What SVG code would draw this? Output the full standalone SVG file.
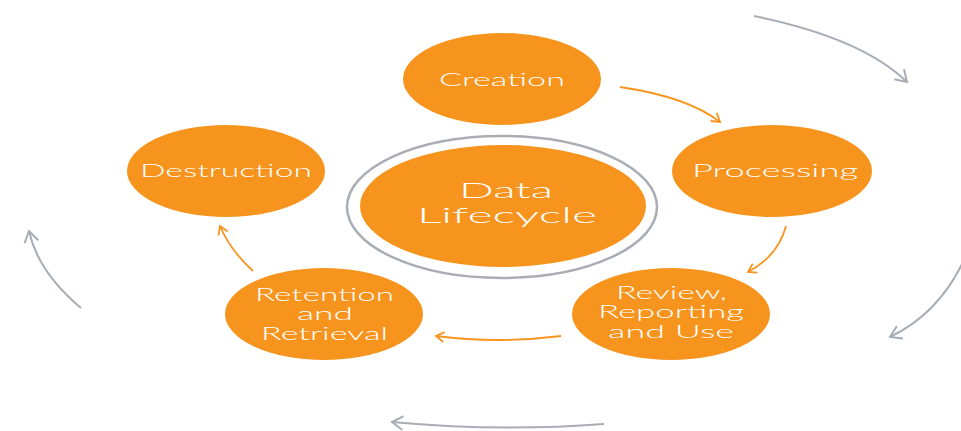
<svg xmlns="http://www.w3.org/2000/svg" width="961" height="431" viewBox="0 0 961 431">
  <style>
    .node { fill: #F7941E; }
    .ring { fill: none; stroke: #A9AEB5; stroke-width: 2.5; }
    .label { fill: #FFFFFF; font-family: "Lato", "Liberation Sans", Arial, sans-serif; font-weight: 300; font-size: 18px; }
    .stack { font-size: 17px; }
    .title { fill: #FFFFFF; font-family: "Lato", "Liberation Sans", Arial, sans-serif; font-weight: 300; font-size: 22px; }
    .flow { fill: none; stroke: #F7941E; stroke-width: 1.8; marker-end: url(#headOrange); }
    .cycle { fill: none; stroke: #A7ADB4; stroke-width: 2; marker-end: url(#headGray); }
  </style>
  <defs>
    <marker id="headOrange" viewBox="0 0 12 12" refX="10" refY="6" markerWidth="12" markerHeight="12" markerUnits="userSpaceOnUse" orient="auto">
      <path d="M2,1 L10,6 L2,11" fill="none" stroke="#F7941E" stroke-width="1.8"/>
    </marker>
    <marker id="headGray" viewBox="0 0 16 16" refX="14" refY="8" markerWidth="16" markerHeight="16" markerUnits="userSpaceOnUse" orient="auto">
      <path d="M3,1 L14,8 L3,15" fill="none" stroke="#A7ADB4" stroke-width="2"/>
    </marker>
  </defs>
  <rect width="961" height="431" fill="#FFFFFF"/>

  <!-- outer cycle arrows and step-to-step arrows -->
  <g id="connectors">
    <path class="cycle" d="M754,16 Q862,38 907,82"/>
    <path class="cycle" d="M963,262 Q938,314 890,337"/>
    <path class="cycle" d="M604,424 Q500,432 392,422"/>
    <path class="cycle" d="M81,308 Q38,272 29,231"/>

    <path class="flow" d="M620,87 Q688,97 720,122"/>
    <path class="flow" d="M786,226 Q778,256 748,272"/>
    <path class="flow" d="M561,336 Q498,344 436,336"/>
    <path class="flow" d="M253,271 Q230,250 220,226"/>
  </g>

  <g id="center">
    <ellipse class="ring" cx="502" cy="207" rx="155" ry="71"/>
    <ellipse class="node" cx="503" cy="206" rx="143" ry="61"/>
    <text class="title" x="459" y="198" textLength="94" lengthAdjust="spacingAndGlyphs">Data</text>
    <text class="title" x="417" y="223" textLength="180" lengthAdjust="spacingAndGlyphs">Lifecycle</text>
  </g>

  <g id="creation">
    <ellipse class="node" cx="502" cy="79" rx="99" ry="46"/>
    <text class="label" x="439" y="86" textLength="126" lengthAdjust="spacingAndGlyphs">Creation</text>
  </g>

  <g id="processing">
    <ellipse class="node" cx="772" cy="171" rx="100" ry="46"/>
    <text class="label" x="692" y="177" textLength="166" lengthAdjust="spacingAndGlyphs">Processing</text>
  </g>

  <g id="review">
    <ellipse class="node" cx="671" cy="314" rx="99" ry="46"/>
    <text class="label stack" x="616" y="299" textLength="111" lengthAdjust="spacingAndGlyphs">Review,</text>
    <text class="label stack" x="598" y="318" textLength="146" lengthAdjust="spacingAndGlyphs">Reporting</text>
    <text class="label stack" x="608" y="338" textLength="126" lengthAdjust="spacingAndGlyphs">and Use</text>
  </g>

  <g id="retention">
    <ellipse class="node" cx="324" cy="314" rx="99" ry="46"/>
    <text class="label stack" x="255" y="301" textLength="139" lengthAdjust="spacingAndGlyphs">Retention</text>
    <text class="label stack" x="297" y="320" textLength="56" lengthAdjust="spacingAndGlyphs">and</text>
    <text class="label stack" x="261" y="340" textLength="127" lengthAdjust="spacingAndGlyphs">Retrieval</text>
  </g>

  <g id="destruction">
    <ellipse class="node" cx="226" cy="171" rx="99" ry="46"/>
    <text class="label" x="140" y="177" textLength="172" lengthAdjust="spacingAndGlyphs">Destruction</text>
  </g>
</svg>
